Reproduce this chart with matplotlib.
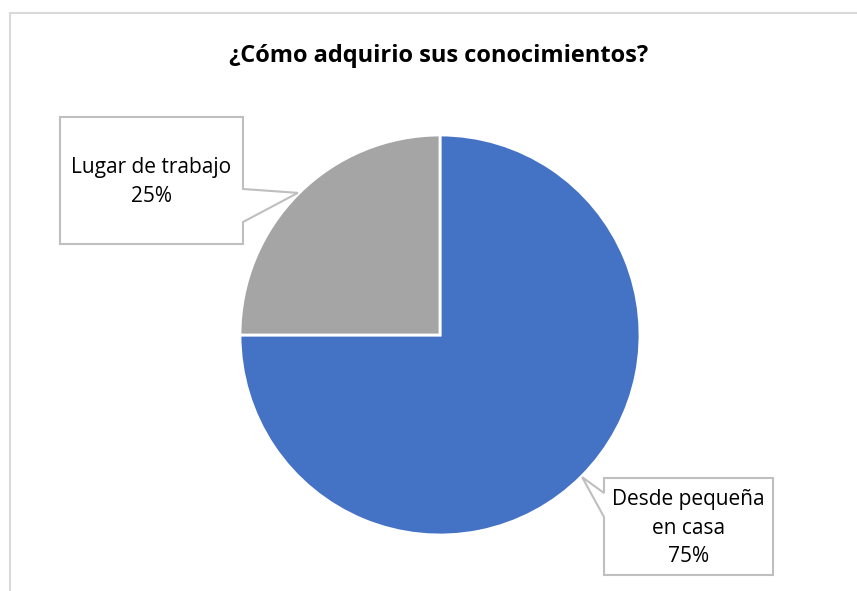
import numpy as np
import matplotlib
matplotlib.use("Agg")
import matplotlib.pyplot as plt
from matplotlib.patches import Polygon, Rectangle

titulo = "¿Cómo adquirio sus conocimientos?"
categorias = ["Desde pequeña\nen casa", "Lugar de trabajo"]
valores = [75, 25]
colores = ["#4472C4", "#A5A5A5"]

W, H = 857, 591
fig = plt.figure(figsize=(W / 100, H / 100), dpi=100)

# outer chart frame (cut off at right/bottom like the screenshot)
fig.patches.append(Rectangle((10 / W, -0.05), 1.1, (H - 13) / H + 0.05,
                             transform=fig.transFigure, fill=False,
                             edgecolor="#D9D9D9", lw=1.5))

fig.text(439 / W, 1 - 56 / H, titulo, ha="center", va="center",
         fontsize=17, fontweight="bold", family="Open Sans", color="#000000")

# pie centre (440, 335) px, radius 200 px
cx, cy, r = 440, 335, 200
ax = fig.add_axes([(cx - r) / W, 1 - (cy + r) / H, 2 * r / W, 2 * r / H])
wedges, _ = ax.pie(valores, colors=colores, startangle=90, counterclock=False,
                   wedgeprops=dict(edgecolor="white", linewidth=2))
ax.set_xlim(-1, 1)
ax.set_ylim(-1, 1)
ax.set_aspect("auto")
ax.axis("off")


def px(x, y):
    return ((x - cx) / r, (cy - y) / r)


# callout boxes: (left, top, right, bottom) in px, pointer side, pointer span
cajas = [
    dict(box=(604, 478, 773, 575), side="left", span=(493, 517), txt_y=528),
    dict(box=(60, 117, 243, 244), side="right", span=(189, 222), txt_y=182),
]

for w, v, cat, c in zip(wedges, valores, categorias, cajas):
    ang = np.deg2rad((w.theta1 + w.theta2) / 2)
    tip = (np.cos(ang) * 1.005, np.sin(ang) * 1.005)
    l, t, rr, b = c["box"]
    s0, s1 = c["span"]
    if c["side"] == "right":
        pts = [px(l, t), px(rr, t), px(rr, s0), tip, px(rr, s1), px(rr, b), px(l, b)]
    else:
        pts = [px(l, t), px(rr, t), px(rr, b), px(l, b), px(l, s1), tip, px(l, s0)]
    ax.add_patch(Polygon(pts, closed=True, facecolor="white", edgecolor="#BFBFBF",
                         lw=1.5, clip_on=False, zorder=5))
    tx, ty = px((l + rr) / 2, c["txt_y"])
    ax.text(tx, ty, f"{cat}\n{v}%", ha="center", va="center", fontsize=15,
            family="Open Sans", color="#000000", linespacing=1.5,
            zorder=6, clip_on=False)

fig.savefig("out.png", dpi=100)
